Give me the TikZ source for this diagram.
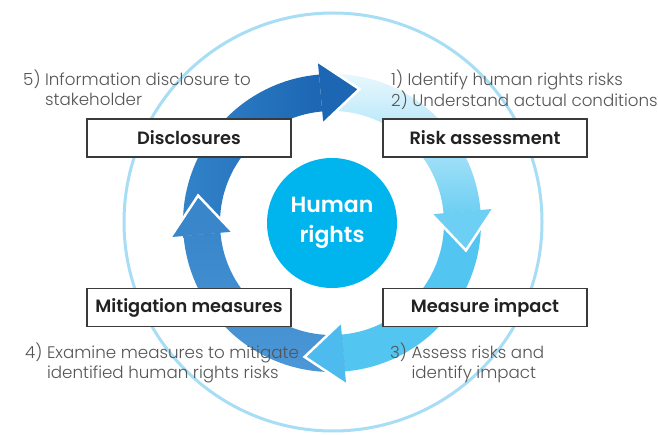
\documentclass[tikz,border=0pt]{standalone}
\usepackage{fontspec}
\setmainfont{Poppins}
\IfFontExistsTF{Poppins Light}{\newfontfamily\lightfont{Poppins Light}}{\newfontfamily\lightfont{Poppins}}
\IfFontExistsTF{Poppins SemiBold}{\newfontfamily\semifont{Poppins SemiBold}}{\newcommand\semifont{\bfseries}}
\definecolor{ringline}{HTML}{A8DDF6}
\definecolor{corecol}{HTML}{00B5EE}
\definecolor{boxline}{HTML}{3A3A3A}
\definecolor{labeltext}{HTML}{222222}
\definecolor{desctext}{HTML}{555555}
\definecolor{riskstart}{HTML}{EEF9FE}
\definecolor{riskend}{HTML}{6DCFF3}
\definecolor{impactcol}{HTML}{52C5F0}
\definecolor{impacthead}{HTML}{4DBBEE}
\definecolor{mitigstart}{HTML}{4C98D7}
\definecolor{mitigend}{HTML}{3986CB}
\definecolor{discstart}{HTML}{3384CA}
\definecolor{discend}{HTML}{1C66B3}
\begin{document}
\begin{tikzpicture}[x=1pt,y=1pt,
    stagebox/.style={draw=boxline, line width=1.2pt, fill=white, minimum width=204pt, minimum height=38pt,
      inner sep=0pt, font=\semifont\fontsize{17.8}{18}\selectfont, text=labeltext},
    desc/.style={align=left, inner sep=0pt, anchor=north west, font=\lightfont\fontsize{16.7}{20}\selectfont, text=desctext},
    headedge/.style={white, line width=2.5pt, line join=miter}]
  \useasboundingbox (0,0) rectangle (658,434);
  \fill[white] (0,0) rectangle (658,434);
  \draw[ringline, line width=3pt] (333,212) circle[radius=209];
  \begin{scope}[shift={(332,211)}]
    \shade[top color=riskstart, bottom color=riskend] (95:149) arc[start angle=95, end angle=5, radius=149]
      -- (5:112) arc[start angle=5, end angle=95, radius=112] -- cycle;
    \fill[impactcol] (5:149) arc[start angle=5, end angle=-85, radius=149]
      -- (-85:112) arc[start angle=-85, end angle=5, radius=112] -- cycle;
    \shade[bottom color=mitigstart, top color=mitigend] (-85:149) arc[start angle=-85, end angle=-175, radius=149]
      -- (-175:112) arc[start angle=-175, end angle=-85, radius=112] -- cycle;
    \shade[left color=discstart, right color=discend] (185:149) arc[start angle=185, end angle=95, radius=149]
      -- (95:112) arc[start angle=95, end angle=185, radius=112] -- cycle;
    \foreach \ang/\col in {5/riskend, -85/impacthead, -175/mitigend, 95/discend} {
      \begin{scope}[rotate=\ang]
        \fill[\col] (100,0) -- (162,0) -- (131,-39) -- cycle;
        \draw[headedge] (100,0) -- (131,-39) -- (162,0);
      \end{scope}
    }
  \end{scope}
  \node[circle, fill=corecol, minimum size=130pt, inner sep=0pt, text=white, align=center,
    font=\semifont\fontsize{22}{30}\selectfont] (core) at (332,211) {Human\\rights};
  \node[stagebox] (disc) at (189,296) {Disclosures};
  \node[stagebox] (risk) at (485,296) {Risk assessment};
  \node[stagebox] (mitig) at (189,126.5) {Mitigation measures};
  \node[stagebox] (impact) at (485,126.5) {Measure impact};
  \node[desc] (discnote) at (23,364) {5) Information disclosure to\\\hphantom{5) }stakeholder};
  \node[desc] (risknote) at (391,364) {1) Identify human rights risks\\2) Understand actual conditions};
  \node[desc] (mitignote) at (25,91) {4) Examine measures to mitigate\\\hphantom{4) }identified human rights risks};
  \node[desc] (impactnote) at (390,91) {3) Assess risks and\\\hphantom{3) }identify impact};
\end{tikzpicture}
\end{document}
